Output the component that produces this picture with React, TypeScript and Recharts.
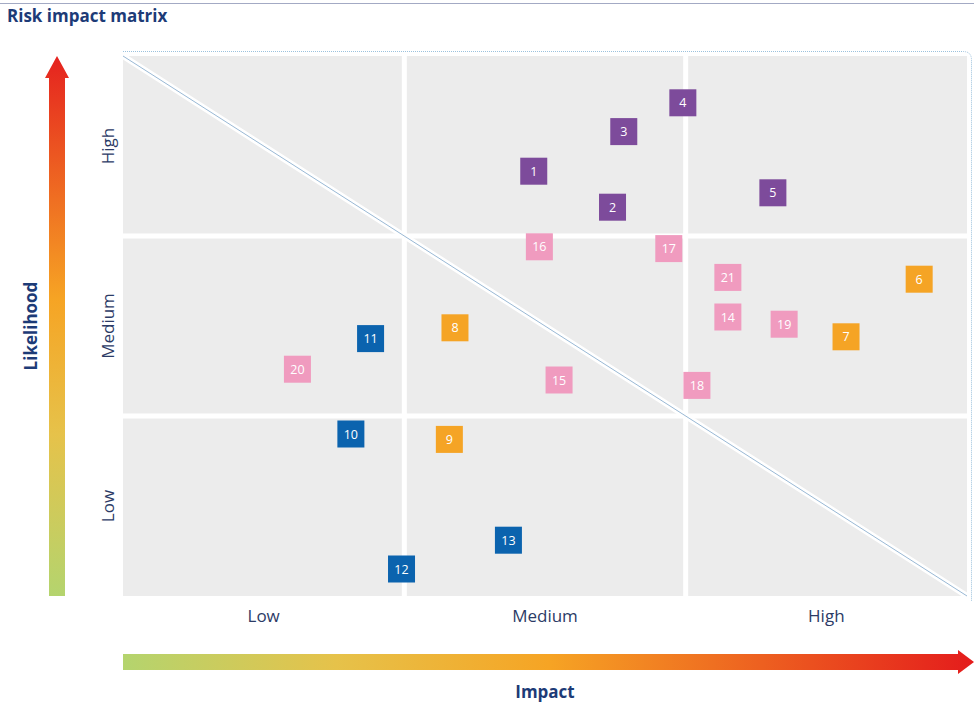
import React from 'react';
import { ScatterChart, Scatter, XAxis, YAxis, ReferenceArea, ReferenceLine } from 'recharts';

// axis zones
const levels = ['Low', 'Medium', 'High'];
const levelCenters = [0.5, 1.5, 2.5];
const zoneBounds = [1, 2];

// risks: id, impact (0-3), likelihood (0-3), group
const riskIds = [1, 2, 3, 4, 5, 6, 7, 8, 9, 10, 11, 12, 13, 14, 15, 16, 17, 18, 19, 20, 21];
const impact = [1.46, 1.74, 1.78, 1.99, 2.31, 2.83, 2.57, 1.18, 1.16, 0.81, 0.88, 0.99, 1.37, 2.15, 1.55, 1.48, 1.94, 2.04, 2.35, 0.62, 2.15];
const likelihood = [2.36, 2.16, 2.58, 2.74, 2.24, 1.76, 1.44, 1.49, 0.87, 0.9, 1.43, 0.15, 0.31, 1.55, 1.2, 1.94, 1.93, 1.17, 1.51, 1.26, 1.77];
const riskGroup = [
  'purple', 'purple', 'purple', 'purple', 'purple',
  'orange', 'orange', 'orange', 'orange',
  'blue', 'blue', 'blue', 'blue',
  'pink', 'pink', 'pink', 'pink', 'pink', 'pink', 'pink', 'pink',
];

const groupColors: Record<string, string> = {
  purple: '#7d4b9b',
  orange: '#f5a425',
  blue: '#0b63ae',
  pink: '#f09bbf',
};

const FONT = '"Open Sans", "Noto Sans", sans-serif';
const NAVY = '#1d3b77';
const LABEL = '#2c3b66';
const BOX = 27;

const risks = riskIds.map((id, i) => ({
  id,
  impact: impact[i],
  likelihood: likelihood[i],
  group: riskGroup[i],
}));

const RiskBox = (props: any) => {
  const { cx, cy, payload, fill } = props;
  if (cx == null || cy == null) return null;
  return (
    <g>
      <rect x={cx - BOX / 2} y={cy - BOX / 2} width={BOX} height={BOX} fill={fill} />
      <text
        x={cx}
        y={cy}
        dy={4.5}
        textAnchor="middle"
        fontSize={12.5}
        fill="#ffffff"
        fontFamily={FONT}
      >
        {payload.id}
      </text>
    </g>
  );
};

const XTick = ({ x, y, payload }: any) => (
  <text x={x} y={y} dy={18} textAnchor="middle" fontSize={17} fill={LABEL} fontFamily={FONT}>
    {levels[levelCenters.indexOf(payload.value)]}
  </text>
);

const YTick = ({ y, payload }: any) => (
  <text
    x={114}
    y={y}
    transform={`rotate(-90, 114, ${y})`}
    textAnchor="middle"
    fontSize={17}
    fill={LABEL}
    fontFamily={FONT}
  >
    {levels[levelCenters.indexOf(payload.value)]}
  </text>
);

const Decorations = () => (
  <svg
    width={974}
    height={704}
    style={{ position: 'absolute', left: 0, top: 0, pointerEvents: 'none' }}
  >
    <defs>
      <linearGradient id="upGrad" x1="0" y1="1" x2="0" y2="0">
        <stop offset="0%" stopColor="#b4d46e" />
        <stop offset="30%" stopColor="#e6c24a" />
        <stop offset="55%" stopColor="#f6a424" />
        <stop offset="100%" stopColor="#e5221f" />
      </linearGradient>
      <linearGradient id="rightGrad" x1="0" y1="0" x2="1" y2="0">
        <stop offset="0%" stopColor="#b4d46e" />
        <stop offset="25%" stopColor="#e6c24a" />
        <stop offset="50%" stopColor="#f6a424" />
        <stop offset="100%" stopColor="#e41c1c" />
      </linearGradient>
    </defs>
    <line x1={0} y1={3.5} x2={974} y2={3.5} stroke="#a3aac4" strokeWidth={1} />
    <text x={7} y={22} fontSize={17} fontWeight={700} fill={NAVY} fontFamily={FONT}>
      Risk impact matrix
    </text>
    <path
      d="M123,51.5 H963 Q971.5,51.5 971.5,60 V601"
      fill="none"
      stroke="#9cc2dd"
      strokeWidth={1}
      strokeDasharray="1 1"
    />
    <path d="M49,596 V78 H45 L57,56 L69,78 H65 V596 Z" fill="url(#upGrad)" />
    <path d="M123,654 H958 V650 L974,662 L958,674 V670 H123 Z" fill="url(#rightGrad)" />
    <text
      x={37}
      y={326}
      transform="rotate(-90, 37, 326)"
      textAnchor="middle"
      fontSize={17}
      fontWeight={700}
      fill={NAVY}
      fontFamily={FONT}
    >
      Likelihood
    </text>
    <text x={545} y={698} textAnchor="middle" fontSize={17} fontWeight={700} fill={NAVY} fontFamily={FONT}>
      Impact
    </text>
  </svg>
);

export default function App() {
  const groups = Object.keys(groupColors);
  return (
    <div style={{ position: 'absolute', left: 0, top: 0, width: 974, height: 704, background: '#ffffff' }}>
      <ScatterChart width={974} height={704} margin={{ top: 56, right: 7, bottom: 78, left: 83 }}>
        <XAxis
          type="number"
          dataKey="impact"
          domain={[0, 3]}
          ticks={levelCenters}
          tick={<XTick />}
          axisLine={false}
          tickLine={false}
          height={30}
        />
        <YAxis
          type="number"
          dataKey="likelihood"
          domain={[0, 3]}
          ticks={levelCenters}
          tick={<YTick />}
          axisLine={false}
          tickLine={false}
          width={40}
        />
        <ReferenceArea x1={0} x2={3} y1={0} y2={3} fill="#ececec" fillOpacity={1} stroke="none" />
        {zoneBounds.map((b) => (
          <ReferenceLine key={`vx-${b}`} x={b} stroke="#ffffff" strokeWidth={5} />
        ))}
        {zoneBounds.map((b) => (
          <ReferenceLine key={`hy-${b}`} y={b} stroke="#ffffff" strokeWidth={5} />
        ))}
        <ReferenceLine
          segment={[{ x: 0, y: 3 }, { x: 3, y: 0 }]}
          stroke="#ffffff"
          strokeWidth={6}
        />
        <ReferenceLine
          segment={[{ x: 0, y: 3 }, { x: 3, y: 0 }]}
          stroke="#7fa6c9"
          strokeWidth={0.8}
        />
        {groups.map((g) => (
          <Scatter
            key={g}
            data={risks.filter((r) => r.group === g)}
            fill={groupColors[g]}
            shape={<RiskBox />}
            isAnimationActive={false}
          />
        ))}
      </ScatterChart>
      <Decorations />
    </div>
  );
}
